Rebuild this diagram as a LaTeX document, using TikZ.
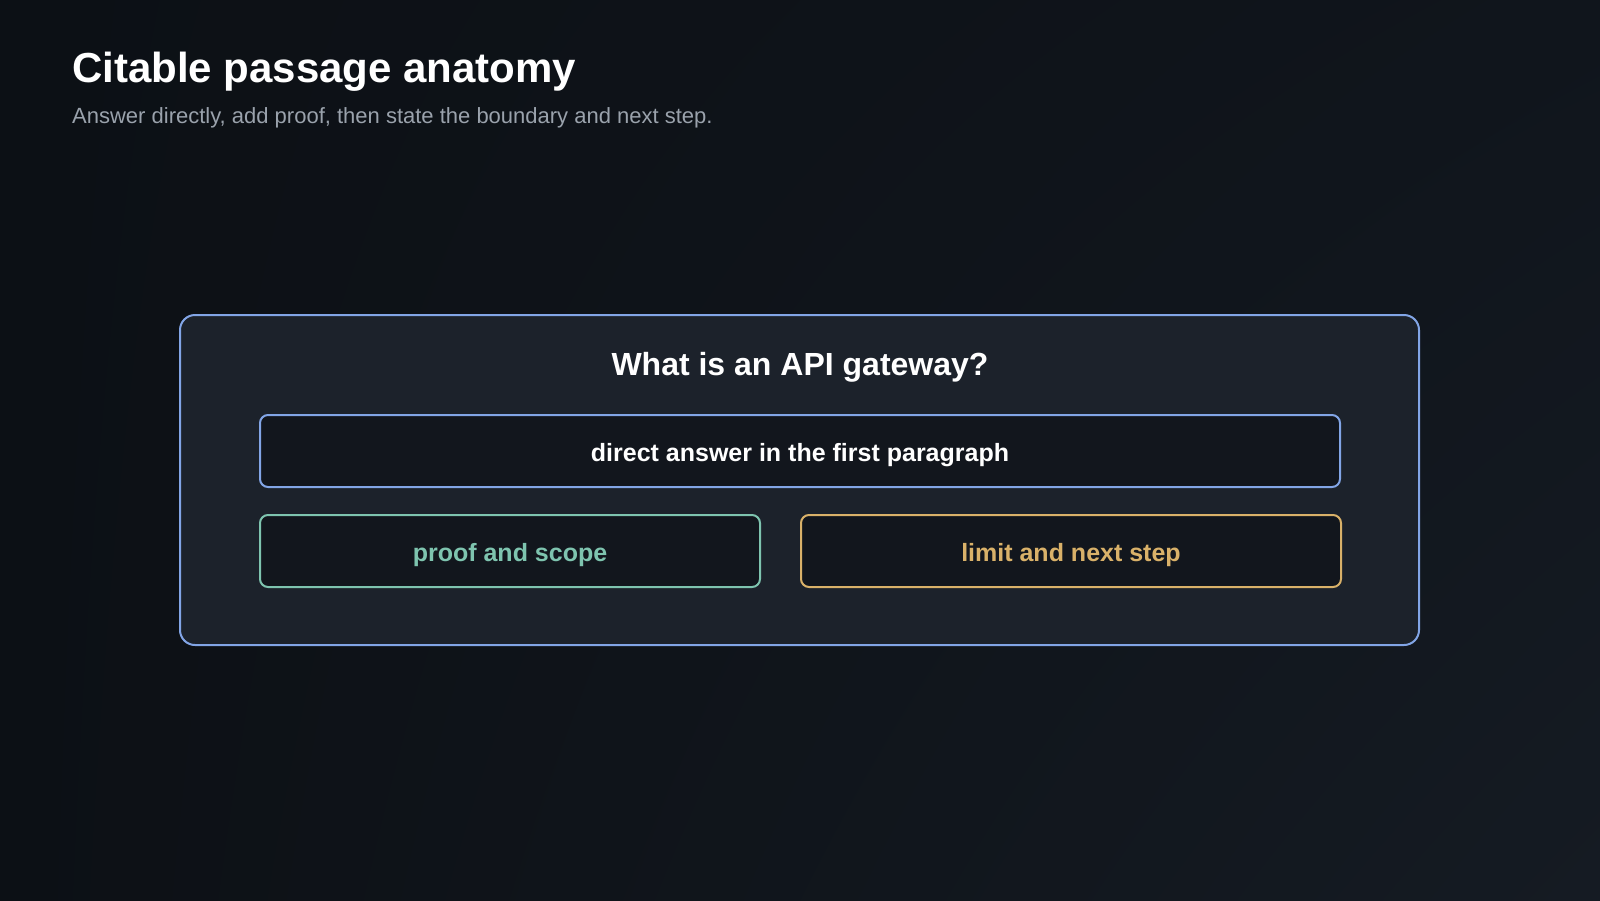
\documentclass[tikz,border=0pt]{standalone}
\usepackage{fontspec}
\setmainfont{Liberation Sans}
\usepackage{tikz}
\usetikzlibrary{positioning,shadings}

\definecolor{bgA}{HTML}{0C1015}
\definecolor{bgB}{HTML}{10151C}
\definecolor{bgC}{HTML}{151B23}
\definecolor{panel}{HTML}{1C222B}
\definecolor{cell}{HTML}{12161D}
\definecolor{bluish}{HTML}{82A5E6}
\definecolor{teal}{HTML}{7EC4AF}
\definecolor{gold}{HTML}{D9B169}
\definecolor{subgray}{HTML}{9AA2AC}

\begin{document}
\begin{tikzpicture}[x=1pt,y=-1pt,
   panelbox/.style={draw=bluish, line width=2pt, fill=panel, rounded corners=15pt,
                    minimum width=1239pt, minimum height=330pt},
   cellbox/.style={line width=2pt, fill=cell, rounded corners=8pt,
                   minimum height=72pt, inner sep=0pt, text height=20pt, text depth=0pt,
                   font=\fontsize{25}{29}\selectfont\bfseries}]
   % background
   \useasboundingbox (0,0) rectangle (1600,900);
   \shade[upper left=bgA, upper right=bgB, lower left=bgA, lower right=bgC]
      (0,0) rectangle (1600,900);

   \node[anchor=base west, inner sep=0pt, text=white,
         font=\fontsize{42}{50}\selectfont\bfseries] (title) at (72,82) {Citable passage anatomy};
   \node[anchor=base west, inner sep=0pt, text=subgray,
         font=\fontsize{22}{26}\selectfont] (sub) at (72,123)
         {Answer directly, add proof, then state the boundary and next step.};

   \node[panelbox] (panel) at (799.5,480) {};
   \node[anchor=base, inner sep=0pt, text=white,
         font=\fontsize{32}{38}\selectfont\bfseries] (question) at (800,375) {What is an API gateway?};

   \node[cellbox, draw=bluish, text=white, minimum width=1080pt] (answer) at (800,451)
      {direct answer in the first paragraph};
   \node[cellbox, draw=teal, text=teal, minimum width=500pt] (proof) at (510,551)
      {proof and scope};
   \node[cellbox, draw=gold, text=gold, minimum width=540pt] (limit) [right=39pt of proof]
      {limit and next step};
\end{tikzpicture}
\end{document}
